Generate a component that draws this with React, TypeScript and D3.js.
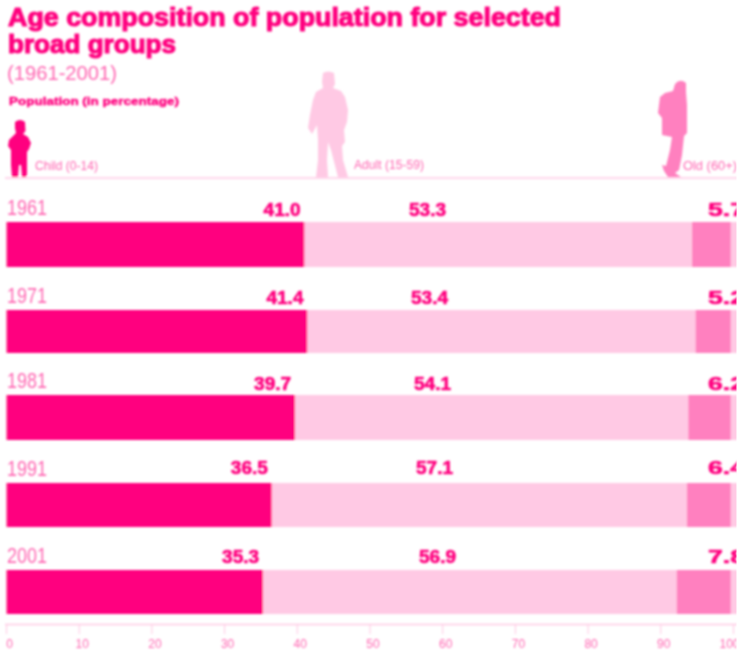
import React from "react";
import * as d3 from "d3";

const years = ["1961", "1971", "1981", "1991", "2001"];
const child = [41.0, 41.4, 39.7, 36.5, 35.3];
const adult = [53.3, 53.4, 54.1, 57.1, 56.9];
const old = [5.7, 5.2, 6.2, 6.4, 7.8];
const seriesKeys = ["child", "adult", "old"];
const legendLabels = ["Child (0-14)", "Adult (15-59)", "Old (60+)"];
const axisTicks = d3.range(0, 101, 10);

const DARK = "#ff007f";
const MID = "#ff80bf";
const LIGHT = "#ffc9e4";
const TEXT_SOFT = "#ff66b2";
const colors = d3.scaleOrdinal<string, string>().domain(seriesKeys).range([DARK, LIGHT, MID]);
const FONT = "'Liberation Sans', Arial, sans-serif";

const x = d3.scaleLinear().domain([0, 100]).range([6.5, 733.5]);
const barTops = [222, 310, 395, 483, 570];
const barHeights = [45, 43, 45, 44, 44];
const adultLabelLeft = [409, 411, 414, 416, 419];
const labelTops = [216, 304, 390, 474, 563];

const rows = years.map((year, i) => ({ year, child: child[i], adult: adult[i], old: old[i] }));
const stacked = d3.stack<any>().keys(seriesKeys)(rows);

const CHILD_ICON = "M15 122Q20 118 25 122L25.5 131L23 134L28 137L31 143L29 149L27 152L27 174L26 177L22 177L21 165L19 165L18 177L12 177L11 165L11 150L8 146L9 140L13 136L16 133L15 128Z";
const ADULT_ICON = "M323 73Q328 70 334 73L335 84L333 88L341 91L345 97L348 110L347 122L344 130L345 142L342 146L343 160L348 177L338 177L331 150L328 142L327 160L328 177L316 177L318 160L318 140L317 125L312 134L308 128L310 115L313 100L316 92L323 88L322 82Z";
const OLD_ICON = "M675 84Q680 78 686 83L686 92L687 105L687 133L684 136L682 155L679 170L675 173L681 177L668 177L664 171L662 165L666 166L670 150L672 137L662 135L662 118L658 113L660 97L665 93L673 91Z";

const boldProps = { fontWeight: 700, fill: DARK, stroke: DARK };

export default function App() {
  return (
    <svg width={738} height={655} style={{ position: "absolute", left: 0, top: 0, display: "block" }} fontFamily={FONT}>
      <defs>
        <filter id="soft" x="0" y="0" width="738" height="655" filterUnits="userSpaceOnUse">
          <feGaussianBlur stdDeviation="0.85" />
        </filter>
        <clipPath id="page"><rect x="0" y="0" width="736.5" height="655" /></clipPath>
      </defs>
      <g clipPath="url(#page)">
        <g filter="url(#soft)">
          <text x={8} y={26} fontSize={25} {...boldProps} strokeWidth={1.1} textLength={553} lengthAdjust="spacingAndGlyphs">Age composition of population for selected</text>
          <text x={8} y={53} fontSize={25} {...boldProps} strokeWidth={1.1} textLength={168} lengthAdjust="spacingAndGlyphs">broad groups</text>
          <text x={7} y={80} fontSize={21} fill={TEXT_SOFT} textLength={110} lengthAdjust="spacingAndGlyphs">(1961-2001)</text>
          <text x={9} y={105} fontSize={10.5} {...boldProps} strokeWidth={0.4} textLength={170} lengthAdjust="spacingAndGlyphs">Population (in percentage)</text>

          <path d={CHILD_ICON} fill={DARK} />
          <path d={ADULT_ICON} fill={LIGHT} />
          <path d={OLD_ICON} fill={MID} />
          <text x={35} y={170} fontSize={12.5} fill={TEXT_SOFT} textLength={63} lengthAdjust="spacingAndGlyphs">{legendLabels[0]}</text>
          <text x={354} y={169} fontSize={12.5} fill={TEXT_SOFT} textLength={70} lengthAdjust="spacingAndGlyphs">{legendLabels[1]}</text>
          <text x={683} y={170} fontSize={12.5} fill={TEXT_SOFT} textLength={54} lengthAdjust="spacingAndGlyphs">{legendLabels[2]}</text>
          <line x1={5} x2={738} y1={178} y2={178} stroke={LIGHT} strokeWidth={1.6} />

          {years.map((year, i) => (
            <g key={year}>
              <rect x={x(0)} y={barTops[i]} width={738 - x(0)} height={barHeights[i]} fill={LIGHT} />
              {stacked.map((s) => (
                <rect key={s.key} x={x(s[i][0])} y={barTops[i]} width={x(s[i][1]) - x(s[i][0]) - (s.key === "old" ? 2.8 : 0)} height={barHeights[i]} fill={colors(s.key)} />
              ))}
              <text x={7} y={barTops[i] - 7} fontSize={22} fill={TEXT_SOFT} textLength={40} lengthAdjust="spacingAndGlyphs">{year}</text>
              <text x={x(child[i]) - 41} y={labelTops[i]} fontSize={18} {...boldProps} strokeWidth={0.6} textLength={37} lengthAdjust="spacingAndGlyphs">{child[i].toFixed(1)}</text>
              <text x={adultLabelLeft[i]} y={labelTops[i]} fontSize={18} {...boldProps} strokeWidth={0.6} textLength={37} lengthAdjust="spacingAndGlyphs">{adult[i].toFixed(1)}</text>
              <text x={708} y={labelTops[i]} fontSize={18} {...boldProps} strokeWidth={0.6} textLength={37} lengthAdjust="spacingAndGlyphs">{old[i].toFixed(1)}</text>
            </g>
          ))}

          <line x1={5} x2={738} y1={624.5} y2={624.5} stroke={LIGHT} strokeWidth={1.6} />
          {axisTicks.map((t) => (
            <g key={t}>
              <line x1={x(t)} x2={x(t)} y1={625} y2={634} stroke={LIGHT} strokeWidth={1} />
              <text x={t === 100 ? x(t) - 4 : x(t) + 3} y={648} fontSize={12} textAnchor="middle" fill={TEXT_SOFT}>{t}</text>
            </g>
          ))}
        </g>
      </g>
    </svg>
  );
}
